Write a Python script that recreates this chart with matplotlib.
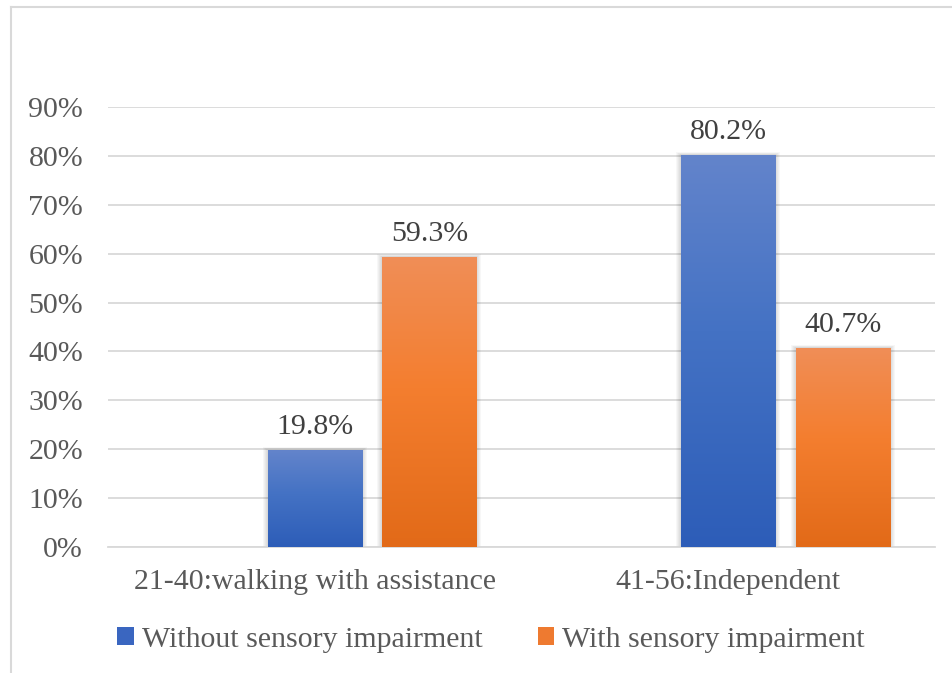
import numpy as np
import matplotlib
matplotlib.use("Agg")
import matplotlib.pyplot as plt
from matplotlib.colors import LinearSegmentedColormap
from matplotlib.patches import Rectangle
from matplotlib.lines import Line2D

# Data
categories = ["21-40:walking with assistance", "41-56:Independent"]
series_names = ["Without sensory impairment", "With sensory impairment"]
without_impairment = [0.198, 0.802]
with_impairment = [0.593, 0.407]
y_ticks = [0.0, 0.1, 0.2, 0.3, 0.4, 0.5, 0.6, 0.7, 0.8, 0.9]

plt.rcParams["font.family"] = ["Liberation Serif", "DejaVu Serif"]
FS = 21.5
TICK_COLOR = "#595959"
LABEL_COLOR = "#404040"
GRID_COLOR = "#d9d9d9"

W, H = 952, 673
fig = plt.figure(figsize=(W / 100, H / 100), dpi=100)
fig.patch.set_facecolor("white")

ax_left, ax_right = 108 / W, 935 / W
ax_bottom, ax_top = (H - 547) / H, (H - 107) / H
ax = fig.add_axes([ax_left, ax_bottom, ax_right - ax_left, ax_top - ax_bottom])

x = np.arange(len(categories))
bar_w = 0.228
offsets = [0.0, 0.277]

gradients = [
    LinearSegmentedColormap.from_list("blue_grad", [(0.0, "#2d5db8"), (0.55, "#4472c4"), (1.0, "#6384cb")]),
    LinearSegmentedColormap.from_list("orange_grad", [(0.0, "#e26a18"), (0.55, "#f47e2f"), (1.0, "#f08e57")]),
]
legend_colors = ["#3a66c0", "#ee7a30"]

px_x = 1.0 / 413.0
px_y = 0.1 / 48.9

ax.set_xlim(-0.5, 1.5)
ax.set_ylim(0, 0.9)

for values, off, cmap, name in zip([without_impairment, with_impairment], offsets, gradients, series_names):
    bars = ax.bar(x + off, values, width=bar_w, color="none", edgecolor="none", zorder=3, label=name)
    for b, v in zip(bars, values):
        x0, w, h = b.get_x(), b.get_width(), b.get_height()
        # soft shadow around the bar
        for k in range(1, 6):
            ax.add_patch(Rectangle((x0 - k * px_x, 0), w + 2 * k * px_x, h + 0.6 * k * px_y,
                                   facecolor="black", edgecolor="none", alpha=0.03, zorder=2.5))
        grad = np.linspace(0, 1, 256).reshape(-1, 1)
        im = ax.imshow(grad, cmap=cmap, origin="lower", aspect="auto",
                       extent=(x0, x0 + w, 0, h), zorder=3, interpolation="bilinear")
        im.set_clip_path(b)
        ax.annotate(f"{v * 100:.1f}%", (x0 + w / 2, h), xytext=(0, 7), textcoords="offset points",
                    ha="center", va="bottom", fontsize=FS, color=LABEL_COLOR, zorder=4)

ax.set_xlim(-0.5, 1.5)
ax.set_ylim(0, 0.9)
ax.set_yticks(y_ticks)
ax.set_yticklabels([f"{t * 100:.0f}%" for t in y_ticks])
ax.set_xticks(x)
ax.set_xticklabels(categories)
ax.tick_params(axis="y", length=0, pad=18, labelsize=FS, labelcolor=TICK_COLOR)
ax.tick_params(axis="x", length=0, pad=16, labelsize=FS, labelcolor=TICK_COLOR)
ax.yaxis.grid(True, color=GRID_COLOR, linewidth=1.3, zorder=0)
ax.set_axisbelow(True)
for side in ["left", "right", "top"]:
    ax.spines[side].set_visible(False)
ax.spines["bottom"].set_color(GRID_COLOR)
ax.spines["bottom"].set_linewidth(1.3)
ax.patch.set_alpha(0)

handles = [Rectangle((0, 0), 1, 1, facecolor=c, edgecolor="none") for c in legend_colors]
fig.legend(handles, series_names, loc="center", bbox_to_anchor=(0.516, (H - 640) / H),
           ncol=2, frameon=False, fontsize=FS, labelcolor=TICK_COLOR,
           handlelength=0.55, handleheight=0.55, handletextpad=0.27, columnspacing=1.85,
           borderaxespad=0, borderpad=0)

# outer chart border
fig.add_artist(Line2D([11 / W, 11 / W], [0, (H - 7) / H], color=GRID_COLOR, linewidth=1.5))
fig.add_artist(Line2D([11 / W, 1], [(H - 7) / H, (H - 7) / H], color=GRID_COLOR, linewidth=1.5))

fig.savefig("out.png", dpi=100, facecolor="white")
